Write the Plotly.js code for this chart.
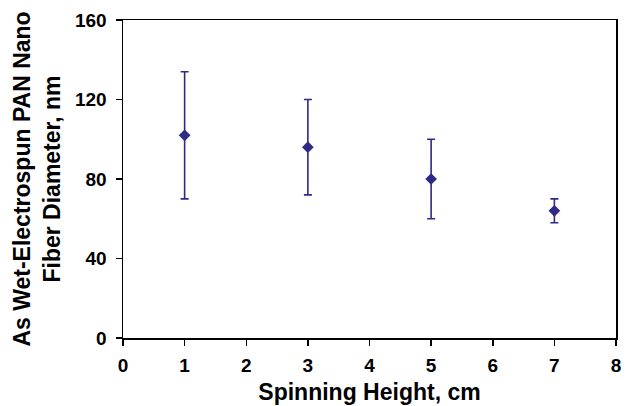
<!DOCTYPE html>
<html>
<head>
<script src="https://cdn.plot.ly/plotly-3.0.1.min.js"></script>
<style>body{margin:0;padding:0;background:#fff;} #chart{width:630px;height:406px;}</style>
</head>
<body>
<div id="chart"></div>
<script>
const spinningHeight = [1, 3, 5, 7];
const fiberDiameter = [102, 96, 80, 64];
const upperBound = [134, 120, 100, 70];
const lowerBound = [70, 72, 60, 58];
const yTicks = [0, 40, 80, 120, 160];
const xTicks = [0, 1, 2, 3, 4, 5, 6, 7, 8];

const errPlus = fiberDiameter.map((v, i) => upperBound[i] - v);
const errMinus = fiberDiameter.map((v, i) => v - lowerBound[i]);
const navy = '#2f2a85';

const trace = {
  x: spinningHeight,
  y: fiberDiameter,
  type: 'scatter',
  mode: 'markers',
  marker: {symbol: 'diamond', size: 9, color: navy},
  error_y: {type: 'data', symmetric: false, array: errPlus, arrayminus: errMinus,
            color: navy, thickness: 1.6, width: 4},
  showlegend: false
};

const fam = 'Liberation Sans, Arial, sans-serif';

const layout = {
  width: 630, height: 406,
  margin: {l: 123, r: 14, t: 20, b: 68},
  paper_bgcolor: '#fff', plot_bgcolor: '#fff',
  font: {family: fam, size: 19, color: '#000'},
  xaxis: {
    range: [0, 8], tickvals: xTicks, ticktext: xTicks.map(String),
    ticks: 'outside', ticklen: 6, tickwidth: 1.5, tickcolor: '#000',
    showline: true, linecolor: '#000', linewidth: 1.5, mirror: true,
    showgrid: false, zeroline: false, automargin: false, ticklabelstandoff: 4,
    tickfont: {family: fam, size: 19, color: '#000', weight: 'bold'},
    title: {text: 'Spinning Height, cm', font: {family: fam, size: 23, color: '#000', weight: 'bold'}, standoff: 8}
  },
  yaxis: {
    range: [0, 160], tickvals: yTicks, ticktext: yTicks.map(String),
    ticks: 'outside', ticklen: 6, tickwidth: 1.5, tickcolor: '#000',
    showline: true, linecolor: '#000', linewidth: 1.5, mirror: true,
    showgrid: false, zeroline: false, automargin: false, ticklabelstandoff: 5,
    tickfont: {family: fam, size: 19, color: '#000', weight: 'bold'},
    title: {text: 'As Wet-Electrospun PAN Nano<br>Fiber Diameter, nm', font: {family: fam, size: 23, color: '#000', weight: 'bold'}, standoff: 8}
  }
};

Plotly.newPlot('chart', [trace], layout, {staticPlot: true, displayModeBar: false});
</script>
</body>
</html>
